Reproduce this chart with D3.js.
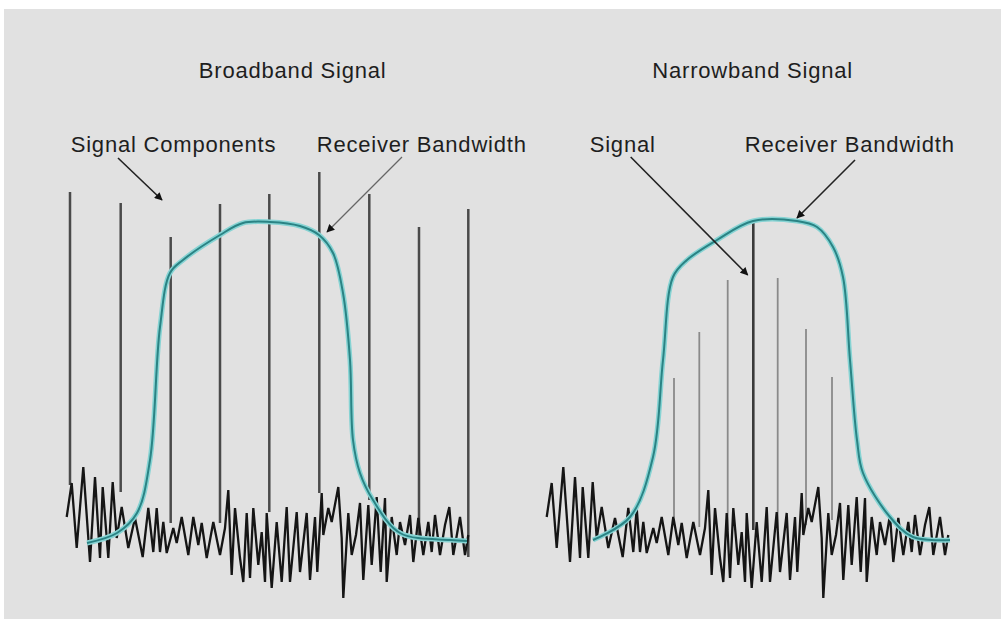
<!DOCTYPE html>
<html><head><meta charset="utf-8">
<script src="https://cdn.jsdelivr.net/npm/d3@7"></script>
<style>html,body{margin:0;padding:0;background:#fff;}svg{display:block;}</style>
</head><body>
<svg id="chart" width="1001" height="619"></svg>
<script>
// ---- data (panel-relative frequency, level) ----
const panelTitles = ["Broadband Signal", "Narrowband Signal"];
const labelTexts = ["Signal Components", "Receiver Bandwidth", "Signal", "Receiver Bandwidth"];

const noise = [[0,83],[5,117],[10,52],[16.6,133],[23.3,38],[28.3,123],[33.3,42],[36,113],[41.6,42],[46,118],
[50,62],[55,93],[61.6,52],[68.3,82],[76,43],[81.6,92],[86.6,48],[90,92],[93.3,48],[96.6,78],[100,47],
[106.6,72],[110,57],[115,83],[121.6,45],[126.6,83],[131.6,55],[135,77],[140,42],[146.6,78],[153.3,45],
[158.3,72],[161.6,110],[165,25],[168.3,92],[173.3,42],[176.6,18],[180,87],[183.3,22],[186.6,92],[191.6,35],
[195,68],[198.3,18],[200,87],[205,12],[210,78],[215,18],[220,93],[223.3,18],[230,88],[233.3,28],[240,87],
[243.3,20],[248.3,83],[250.6,28],[255,107],[256.6,65],[261.6,92],[265,78],[271.6,113],[275,62],[276.6,2],
[281.6,87],[285,45],[289.3,65],[293.3,97],[296.6,20],[301.6,95],[305,35],[310,103],[314,28],[318.3,102],
[320,18],[325,83],[330,45],[333.3,78],[338.3,55],[343.3,85],[346.6,38],[351.6,82],[356.6,45],[361.6,78],
[365,48],[368.3,85],[373.3,45],[378.3,75],[382.6,93],[386.6,45],[393.3,83],[398.3,45],[401.6,65]];

// broadband components: frequency, top level, bottom level
const bbFreq = [3.3, 54, 104, 153.3, 202.6, 252.6, 302.6, 352.3, 401.6];
const bbTop  = [408, 397, 363, 396, 406, 428, 406, 373, 391];
const bbBot  = [115, 108, 77, 77, 88, 107, 100, 63, 43];

// narrowband components
const nbFreq = [127.3, 152.6, 181, 206.6, 231, 259.3, 285.3];
const nbTop  = [222, 268, 320, 380, 322, 271, 223];
const nbBot  = [83, 73, 70, 70, 70, 75, 80];

// receiver bandwidth curves
const bbFilter = [[20.3,57],[50.3,67],[70.3,87],[83.3,140],[93.3,273],[103.3,327],[116.3,340],[153.3,365],
[176.3,377],[203.3,378],[233.3,374],[252.3,365],[266.3,347],[276.3,307],[283.3,240],[286.3,160],[293.3,127],
[306.3,100],[333.3,67],[383.3,60],[400.3,59]];
const nbFilter = [[46.3,60],[83.3,83],[106.3,143],[116.3,240],[126.3,323],[140.3,340],[170.3,360],[206.3,379],
[250.3,379],[270.3,373],[286.3,353],[296.3,323],[303.3,240],[310.3,160],[316.3,127],[343.3,83],[366.3,63],[403.3,60]];

// annotation arrows: [fromFreq, fromLevel, toFreq, toLevel]
const bbArrows = [[51.3,442,95.3,400],[335.3,443,260.3,368]];
const nbArrows = [[84,443,201,325],[308.3,440,250.3,382]];

// ---- drawing ----
const svg = d3.select("#chart");
svg.append("rect").attr("x",4).attr("y",9).attr("width",997).attr("height",610).attr("fill","#e1e1e1");

const defs = svg.append("defs");
defs.append("marker").attr("id","ah").attr("viewBox","0 0 10 10").attr("refX",9).attr("refY",5)
  .attr("markerWidth",9).attr("markerHeight",8).attr("markerUnits","userSpaceOnUse").attr("orient","auto")
  .append("path").attr("d","M0,0L10,5L0,10z").attr("fill","#111");

const y = d3.scaleLinear().domain([0,450]).range([600,150]);
const xL = d3.scaleLinear().domain([0,400]).range([66.7,466.7]);
const xR = d3.scaleLinear().domain([0,400]).range([546.7,946.7]);

function drawPanel(x, comps, filter, arrows, nb) {
  const g = svg.append("g");
  const [f, top, bot] = comps;
  g.selectAll("line.comp").data(f).join("line")
    .attr("x1", d=>x(d)).attr("x2", d=>x(d))
    .attr("y1", (d,i)=>y(top[i])).attr("y2", (d,i)=>y(bot[i]))
    .attr("stroke", (d,i)=> nb ? (i===3 ? "#3a3a3a" : "#8a8a8a") : "#4a4a4a")
    .attr("stroke-width", (d,i)=> nb ? (i===3 ? 2.6 : 1.8) : 2.5);
  const line = d3.line().x(d=>x(d[0])).y(d=>y(d[1]));
  g.append("path").attr("d", line(noise)).attr("fill","none").attr("stroke","#151515")
    .attr("stroke-width",2.3).attr("stroke-linejoin","miter");
  const fl = d3.line().x(d=>x(d[0])).y(d=>y(d[1])).curve(d3.curveCatmullRom.alpha(0.5));
  g.append("path").attr("d", fl(filter)).attr("fill","none").attr("stroke","#86d3d3").attr("stroke-width",5);
  g.append("path").attr("d", fl(filter)).attr("fill","none").attr("stroke","#2a8384").attr("stroke-width",2);
  g.selectAll("line.arr").data(arrows).join("line")
    .attr("x1", d=>x(d[0])).attr("y1", d=>y(d[1])).attr("x2", d=>x(d[2])).attr("y2", d=>y(d[3]))
    .attr("stroke", (d,i)=> (!nb && i===1) ? "#666" : "#222")
    .attr("stroke-width", (d,i)=> (!nb && i===1) ? 1.2 : 1.6)
    .attr("marker-end","url(#ah)");
}
drawPanel(xL, [bbFreq,bbTop,bbBot], bbFilter, bbArrows, false);
drawPanel(xR, [nbFreq,nbTop,nbBot], nbFilter, nbArrows, true);

const txt = svg.append("g").attr("font-family","'Liberation Sans', Arial, sans-serif").attr("fill","#1e1e1e")
  .attr("font-size",22).attr("letter-spacing","0.8px");
txt.append("text").attr("x", xL(226)).attr("y", 78).attr("text-anchor","middle").text(panelTitles[0]);
txt.append("text").attr("x", xR(206)).attr("y", 78).attr("text-anchor","middle").text(panelTitles[1]);
txt.append("text").attr("x", xL(4)).attr("y", 152).text(labelTexts[0]);
txt.append("text").attr("x", xL(250)).attr("y", 152).text(labelTexts[1]);
txt.append("text").attr("x", xR(43)).attr("y", 152).text(labelTexts[2]);
txt.append("text").attr("x", xR(198)).attr("y", 152).text(labelTexts[3]);
</script>
</body></html>
